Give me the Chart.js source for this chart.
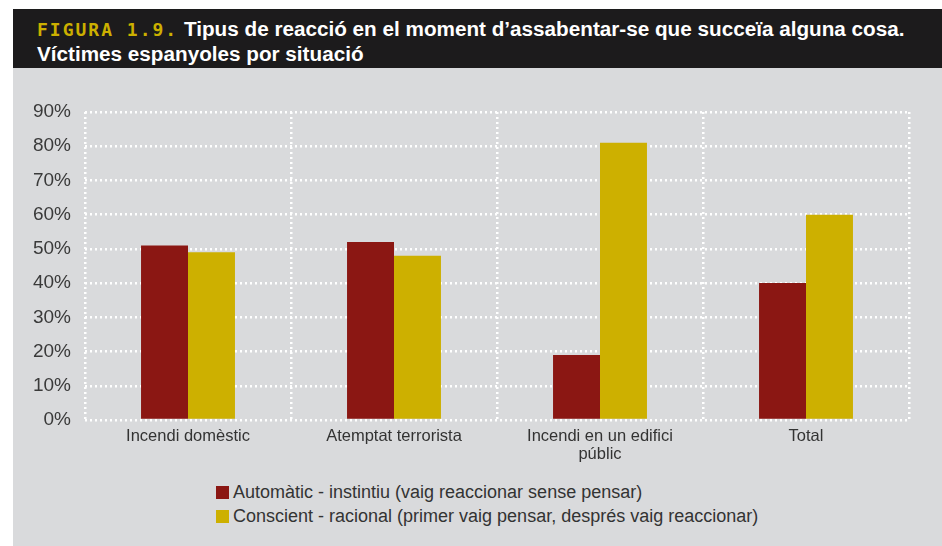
<!DOCTYPE html>
<html>
<head>
<meta charset="utf-8">
<script src="https://cdn.jsdelivr.net/npm/chart.js@4"></script>
<style>
  html, body { margin: 0; padding: 0; background: #ffffff; }
  body { width: 942px; height: 546px; position: relative; overflow: hidden; font-family: 'Liberation Sans', Arial, sans-serif; }
  #header { position: absolute; left: 13px; top: 9px; width: 929px; height: 59px; background: #1c1b1c; box-sizing: border-box; padding: 8px 0 0 24px; }
  #header div { color: #ffffff; font-family: 'Liberation Sans', sans-serif; font-weight: bold; font-size: 20.7px; line-height: 24px; white-space: nowrap; }
  #header .fig { color: #ccb000; font-family: 'DejaVu Sans Mono', monospace; font-weight: bold; font-size: 18px; letter-spacing: 2px; }
  #panel { position: absolute; left: 13px; top: 68px; width: 929px; height: 478px; background: #d9dadc; }
  #chart-box { position: absolute; left: 0; top: 0; width: 929px; height: 405px; }
  #legend { position: absolute; left: 203px; top: 412px; font-size: 18px; color: #333333; line-height: 24px; }
  #legend .item { display: flex; align-items: center; white-space: nowrap; }
  #legend .sw { width: 13px; height: 13px; margin-right: 4px; display: inline-block; }
</style>
</head>
<body>
<div id="header">
  <div><span class="fig">FIGURA 1.9.</span> Tipus de reacció en el moment d’assabentar-se que succeïa alguna cosa.</div>
  <div>Víctimes espanyoles por situació</div>
</div>
<div id="panel">
  <div id="chart-box"><canvas id="chart"></canvas></div>
  <div id="legend"></div>
</div>
<script>
const categories = ['Incendi domèstic', 'Atemptat terrorista', ['Incendi en un edifici', 'públic'], 'Total'];
const seriesNames = ['Automàtic - instintiu (vaig reaccionar sense pensar)', 'Conscient - racional (primer vaig pensar, després vaig reaccionar)'];
const automatic = [51, 52, 19, 40];
const conscient = [49, 48, 81, 60];
const yTicks = [0, 10, 20, 30, 40, 50, 60, 70, 80, 90];
const colors = ['#8b1713', '#cdb000'];

const legendEl = document.getElementById('legend');
seriesNames.forEach((name, i) => {
    const item = document.createElement('div');
    item.className = 'item';
    item.innerHTML = `<span class="sw" style="background:${colors[i]}"></span><span>${name}</span>`;
    legendEl.appendChild(item);
});

// dotted white grid, v4 puts the dash pattern on border.dash
const gridStyle = { color: '#ffffff', lineWidth: 2.5, drawTicks: false };
const dotted = { display: false, dash: [2, 3] };

new Chart(document.getElementById('chart'), {
    type: 'bar',
    data: {
        labels: categories,
        datasets: [
            { label: seriesNames[0], data: automatic, backgroundColor: colors[0], borderWidth: 0, categoryPercentage: 0.456, barPercentage: 1.0 },
            { label: seriesNames[1], data: conscient, backgroundColor: colors[1], borderWidth: 0, categoryPercentage: 0.456, barPercentage: 1.0 }
        ]
    },
    options: {
        responsive: true,
        maintainAspectRatio: false,
        animation: false,
        layout: { padding: { top: 44, right: 33, left: 0, bottom: 0 } },
        plugins: { legend: { display: false }, tooltip: { enabled: false } },
        scales: {
            x: {
                grid: { ...gridStyle, offset: true },
                border: dotted,
                ticks: { color: '#333333', font: { family: 'Liberation Sans', size: 16.5, lineHeight: 1.1 }, padding: 7, maxRotation: 0, autoSkip: false },
                afterFit: axis => { axis.height = 53; }
            },
            y: {
                min: 0,
                max: 90,
                afterBuildTicks: axis => { axis.ticks = yTicks.map(v => ({ value: v })); },
                grid: gridStyle,
                border: dotted,
                ticks: { color: '#3a3a3a', font: { family: 'Liberation Sans', size: 19 }, padding: 14, callback: v => v + '%' },
                afterFit: axis => { axis.width = 72; }
            }
        }
    }
});
</script>
</body>
</html>
